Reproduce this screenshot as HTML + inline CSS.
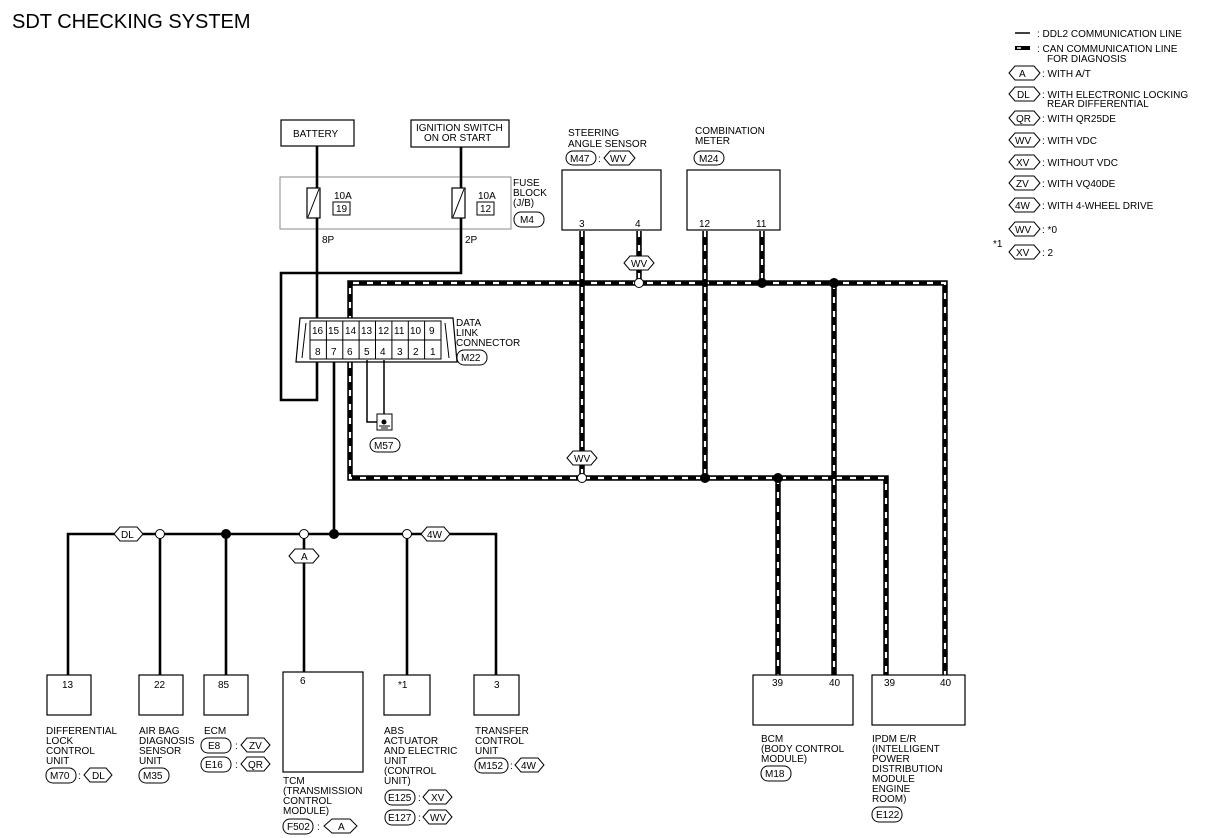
<!DOCTYPE html>
<html><head><meta charset="utf-8"><style>
html,body{margin:0;padding:0;background:#fff;}
svg{display:block;font-family:"Liberation Sans",Arial,sans-serif;}
text{font-size:10px;fill:#000;}
.t{font-size:10px;}
.bx{fill:#fff;stroke:#000;stroke-width:1.2;}
.w{fill:none;stroke:#000;stroke-width:2.6;}
.cb{fill:none;stroke:#000;stroke-width:5.5;}
.cw{fill:none;stroke:#fff;stroke-width:2.2;stroke-dasharray:6,8;}
.hx{fill:#fff;stroke:#000;stroke-width:1;}
.ov{fill:#fff;stroke:#000;stroke-width:1;}
</style></head><body>
<svg width="1211" height="838" viewBox="0 0 1211 838" xmlns="http://www.w3.org/2000/svg">
<text x="12" y="28" style="font-size:20px">SDT CHECKING SYSTEM</text>

<!-- Legend -->
<line x1="1015" y1="33" x2="1030" y2="33" stroke="#000" stroke-width="1.5"/>
<text x="1037" y="37" class="t">: DDL2 COMMUNICATION LINE</text>
<path d="M1015 48 H1030" stroke="#000" stroke-width="4"/><path d="M1017 48 H1021" stroke="#fff" stroke-width="1.5"/>
<text x="1037" y="52" class="t">: CAN COMMUNICATION LINE</text>
<text x="1047" y="62" class="t">FOR DIAGNOSIS</text>
<g id="lg">
<polygon class="hx" points="1009,73 1015,66 1034,66 1040,73 1034,80 1015,80"/><text x="1019" y="77">A</text><text x="1042" y="77">: WITH A/T</text>
<polygon class="hx" points="1009,94 1015,87 1034,87 1040,94 1034,101 1015,101"/><text x="1017" y="98">DL</text><text x="1042" y="98">: WITH ELECTRONIC LOCKING</text><text x="1047" y="107">REAR DIFFERENTIAL</text>
<polygon class="hx" points="1009,118 1015,111 1034,111 1040,118 1034,125 1015,125"/><text x="1016" y="122">QR</text><text x="1042" y="122">: WITH QR25DE</text>
<polygon class="hx" points="1009,140 1015,133 1034,133 1040,140 1034,147 1015,147"/><text x="1015" y="144">WV</text><text x="1042" y="144">: WITH VDC</text>
<polygon class="hx" points="1009,162 1015,155 1034,155 1040,162 1034,169 1015,169"/><text x="1016" y="166">XV</text><text x="1042" y="166">: WITHOUT VDC</text>
<polygon class="hx" points="1009,183 1015,176 1034,176 1040,183 1034,190 1015,190"/><text x="1016" y="187">ZV</text><text x="1042" y="187">: WITH VQ40DE</text>
<polygon class="hx" points="1009,205 1015,198 1034,198 1040,205 1034,212 1015,212"/><text x="1015" y="209">4W</text><text x="1042" y="209">: WITH 4-WHEEL DRIVE</text>
<polygon class="hx" points="1009,229 1015,222 1034,222 1040,229 1034,236 1015,236"/><text x="1015" y="233">WV</text><text x="1042" y="233">: *0</text>
<text x="993" y="247">*1</text>
<polygon class="hx" points="1009,252 1015,245 1034,245 1040,252 1034,259 1015,259"/><text x="1016" y="256">XV</text><text x="1042" y="256">: 2</text>
</g>

<!-- Battery / ignition / fuse -->
<rect class="bx" x="281" y="120" width="73" height="26"/><text x="293" y="137">BATTERY</text>
<rect class="bx" x="411" y="120" width="98" height="27"/><text x="416" y="131">IGNITION SWITCH</text><text x="424" y="141">ON OR START</text>
<rect x="280" y="177" width="231" height="52" fill="none" stroke="#888" stroke-width="1"/>
<path class="w" d="M317 146 V322"/>
<path class="w" d="M461 147 V273 H281 V400 H317 V362"/>
<rect x="307" y="188" width="13" height="30" fill="#fff" stroke="#000" stroke-width="1.2"/><line x1="308" y1="217" x2="319" y2="189" stroke="#000"/>
<rect x="452" y="188" width="13" height="30" fill="#fff" stroke="#000" stroke-width="1.2"/><line x1="453" y1="217" x2="464" y2="189" stroke="#000"/>
<text x="334" y="199">10A</text><rect x="333" y="202" width="17" height="13" fill="none" stroke="#000"/><text x="336" y="212">19</text>
<text x="478" y="199">10A</text><rect x="477" y="202" width="17" height="13" fill="none" stroke="#000"/><text x="480" y="212">12</text>
<text x="513" y="186">FUSE</text><text x="513" y="196">BLOCK</text><text x="513" y="206">(J/B)</text>
<rect class="ov" x="514" y="212" width="30" height="15" rx="7"/><text x="520" y="223">M4</text>
<text x="322" y="243">8P</text><text x="465" y="243">2P</text>

<!-- CAN network -->
<g>
<path class="cb" d="M350 322 V283 H945 V677"/><path class="cw" d="M350 322 V283 H945 V677"/>
<path class="cb" d="M350 362 V478 H886 V677"/><path class="cw" d="M350 362 V478 H886 V677"/>
<path class="cb" d="M582 231 V478"/><path class="cw" d="M582 231 V478"/>
<path class="cb" d="M639 231 V283"/><path class="cw" d="M639 231 V283"/>
<path class="cb" d="M705 231 V478"/><path class="cw" d="M705 231 V478"/>
<path class="cb" d="M762 231 V283"/><path class="cw" d="M762 231 V283"/>
<path class="cb" d="M834 283 V677"/><path class="cw" d="M834 283 V677"/>
<path class="cb" d="M778 478 V677"/><path class="cw" d="M778 478 V677"/>
</g>
<polygon class="hx" points="624,263 630,256 648,256 654,263 648,270 630,270"/><text x="631" y="267">WV</text>
<polygon class="hx" points="567,458 573,451 591,451 597,458 591,465 573,465"/><text x="574" y="462">WV</text>
<circle cx="639" cy="283" r="4.5" fill="#fff" stroke="#000"/>
<circle cx="582" cy="478" r="4.5" fill="#fff" stroke="#000"/>
<circle cx="762" cy="283" r="5" fill="#000"/><circle cx="834" cy="283" r="5" fill="#000"/>
<circle cx="705" cy="478" r="5" fill="#000"/><circle cx="778" cy="478" r="5" fill="#000"/>

<!-- sensor & meter -->
<text x="568" y="136">STEERING</text><text x="568" y="147">ANGLE SENSOR</text>
<rect class="ov" x="566" y="151" width="30" height="14" rx="7"/><text x="570" y="162">M47</text><text x="598" y="162">:</text>
<polygon class="hx" points="604,158 610,151 629,151 635,158 629,165 610,165"/><text x="610" y="162">WV</text>
<rect class="bx" x="562" y="170" width="99" height="60"/><text x="579" y="227">3</text><text x="635" y="227">4</text>
<text x="695" y="134">COMBINATION</text><text x="695" y="144">METER</text>
<rect class="ov" x="694" y="151" width="30" height="14" rx="7"/><text x="699" y="162">M24</text>
<rect class="bx" x="687" y="170" width="93" height="60"/><text x="699" y="227">12</text><text x="756" y="227">11</text>

<!-- DLC -->
<polygon points="296,362 300,318 453,318 457,362" fill="#fff" stroke="#000" stroke-width="1.2"/>
<rect x="310" y="321" width="131" height="38" fill="#fff" stroke="#000"/>
<line x1="310" y1="340" x2="441" y2="340" stroke="#000"/>
<g stroke="#000">
<line x1="326.4" y1="321" x2="326.4" y2="359"/><line x1="342.8" y1="321" x2="342.8" y2="359"/><line x1="359.1" y1="321" x2="359.1" y2="359"/><line x1="375.5" y1="321" x2="375.5" y2="359"/><line x1="391.9" y1="321" x2="391.9" y2="359"/><line x1="408.3" y1="321" x2="408.3" y2="359"/><line x1="424.6" y1="321" x2="424.6" y2="359"/>
</g>
<line x1="302" y1="358" x2="306" y2="323" stroke="#000"/><line x1="449" y1="358" x2="445" y2="323" stroke="#000"/>
<g style="font-size:10px">
<text x="312" y="334">16</text><text x="328" y="334">15</text><text x="345" y="334">14</text><text x="361" y="334">13</text><text x="378" y="334">12</text><text x="394" y="334">11</text><text x="410" y="334">10</text><text x="429" y="334">9</text>
<text x="315" y="355">8</text><text x="331" y="355">7</text><text x="347" y="355">6</text><text x="364" y="355">5</text><text x="380" y="355">4</text><text x="397" y="355">3</text><text x="413" y="355">2</text><text x="430" y="355">1</text>
</g>
<text x="456" y="326">DATA</text><text x="456" y="336">LINK</text><text x="456" y="346">CONNECTOR</text>
<rect class="ov" x="457" y="350" width="30" height="15" rx="7"/><text x="461" y="361">M22</text>
<path d="M367 360 V422 H384" fill="none" stroke="#000" stroke-width="1.5"/>
<path d="M384 360 V425" fill="none" stroke="#000" stroke-width="1.5"/>
<rect x="377" y="414" width="15" height="16" fill="#fff" stroke="#000"/>
<circle cx="384" cy="422" r="2.5" fill="#000"/><line x1="379" y1="426" x2="390" y2="426" stroke="#000"/><line x1="381" y1="428" x2="388" y2="428" stroke="#000"/>
<rect class="ov" x="370" y="438" width="30" height="14" rx="7"/><text x="374" y="449">M57</text>

<!-- DDL2 bus -->
<path class="w" d="M334 362 V534"/>
<path class="w" d="M68 677 V534 H496 V677"/>
<path class="w" d="M160 534 V677 M226 534 V677 M304 534 V672 M407 534 V677"/>
<polygon class="hx" points="114,534 120,527 137,527 143,534 137,541 120,541"/><text x="121" y="538">DL</text>
<polygon class="hx" points="421,534 427,527 444,527 450,534 444,541 427,541"/><text x="427" y="538">4W</text>
<polygon class="hx" points="289,556 295,549 313,549 319,556 313,563 295,563"/><text x="301" y="560">A</text>
<circle cx="160" cy="534" r="4.5" fill="#fff" stroke="#000"/><circle cx="304" cy="534" r="4.5" fill="#fff" stroke="#000"/><circle cx="407" cy="534" r="4.5" fill="#fff" stroke="#000"/>
<circle cx="226" cy="534" r="5" fill="#000"/><circle cx="334" cy="534" r="5" fill="#000"/>

<!-- bottom units -->
<rect class="bx" x="47" y="675" width="44" height="40"/><text x="62" y="688">13</text>
<text x="46" y="734">DIFFERENTIAL</text><text x="46" y="744">LOCK</text><text x="46" y="754">CONTROL</text><text x="46" y="764">UNIT</text>
<rect class="ov" x="46" y="768" width="30" height="15" rx="7"/><text x="50" y="779">M70</text><text x="78" y="779">:</text>
<polygon class="hx" points="84,775 90,768 106,768 112,775 106,782 90,782"/><text x="92" y="779">DL</text>

<rect class="bx" x="139" y="675" width="44" height="40"/><text x="154" y="688">22</text>
<text x="139" y="734">AIR BAG</text><text x="139" y="744">DIAGNOSIS</text><text x="139" y="754">SENSOR</text><text x="139" y="764">UNIT</text>
<rect class="ov" x="139" y="768" width="30" height="15" rx="7"/><text x="143" y="779">M35</text>

<rect class="bx" x="204" y="675" width="44" height="40"/><text x="218" y="688">85</text>
<text x="204" y="734">ECM</text>
<rect class="ov" x="201" y="738" width="30" height="15" rx="7"/><text x="208" y="749">E8</text><text x="235" y="749">:</text>
<polygon class="hx" points="241,745 247,738 264,738 270,745 264,752 247,752"/><text x="249" y="749">ZV</text>
<rect class="ov" x="201" y="757" width="30" height="15" rx="7"/><text x="205" y="768">E16</text><text x="235" y="768">:</text>
<polygon class="hx" points="241,764 247,757 264,757 270,764 264,771 247,771"/><text x="248" y="768">QR</text>

<rect class="bx" x="283" y="672" width="80" height="100"/><text x="300" y="684">6</text>
<text x="283" y="784">TCM</text><text x="283" y="794">(TRANSMISSION</text><text x="283" y="804">CONTROL</text><text x="283" y="814">MODULE)</text>
<rect class="ov" x="283" y="819" width="30" height="15" rx="7"/>
<text x="287" y="830">F502</text><text x="317" y="830">:</text>
<polygon class="hx" points="324,826 332,819 350,819 357,826 350,833 332,833"/><text x="338" y="830">A</text>

<rect class="bx" x="384" y="675" width="46" height="40"/><text x="398" y="688">*1</text>
<text x="384" y="734">ABS</text><text x="384" y="744">ACTUATOR</text><text x="384" y="754">AND ELECTRIC</text><text x="384" y="764">UNIT</text><text x="384" y="774">(CONTROL</text><text x="384" y="784">UNIT)</text>
<rect class="ov" x="385" y="790" width="30" height="15" rx="7"/><text x="388" y="801">E125</text><text x="418" y="801">:</text>
<polygon class="hx" points="423,797 429,790 446,790 452,797 446,804 429,804"/><text x="431" y="801">XV</text>
<rect class="ov" x="385" y="810" width="30" height="15" rx="7"/><text x="388" y="821">E127</text><text x="418" y="821">:</text>
<polygon class="hx" points="423,817 429,810 446,810 452,817 446,824 429,824"/><text x="430" y="821">WV</text>

<rect class="bx" x="474" y="675" width="45" height="40"/><text x="494" y="688">3</text>
<text x="475" y="734">TRANSFER</text><text x="475" y="744">CONTROL</text><text x="475" y="754">UNIT</text>
<rect class="ov" x="475" y="758" width="33" height="15" rx="7"/><text x="478" y="769">M152</text><text x="510" y="769">:</text>
<polygon class="hx" points="515,765 521,758 538,758 544,765 538,772 521,772"/><text x="521" y="769">4W</text>

<rect class="bx" x="753" y="675" width="100" height="50"/><text x="772" y="686">39</text><text x="829" y="686">40</text>
<text x="761" y="742">BCM</text><text x="761" y="752">(BODY CONTROL</text><text x="761" y="762">MODULE)</text>
<rect class="ov" x="761" y="766" width="30" height="15" rx="7"/><text x="765" y="777">M18</text>

<rect class="bx" x="872" y="675" width="93" height="50"/><text x="884" y="686">39</text><text x="940" y="686">40</text>
<text x="872" y="742">IPDM E/R</text><text x="872" y="752">(INTELLIGENT</text><text x="872" y="762">POWER</text><text x="872" y="772">DISTRIBUTION</text><text x="872" y="782">MODULE</text><text x="872" y="792">ENGINE</text><text x="872" y="802">ROOM)</text>
<rect class="ov" x="872" y="807" width="30" height="15" rx="7"/><text x="876" y="818">E122</text>
</svg>
</body></html>
